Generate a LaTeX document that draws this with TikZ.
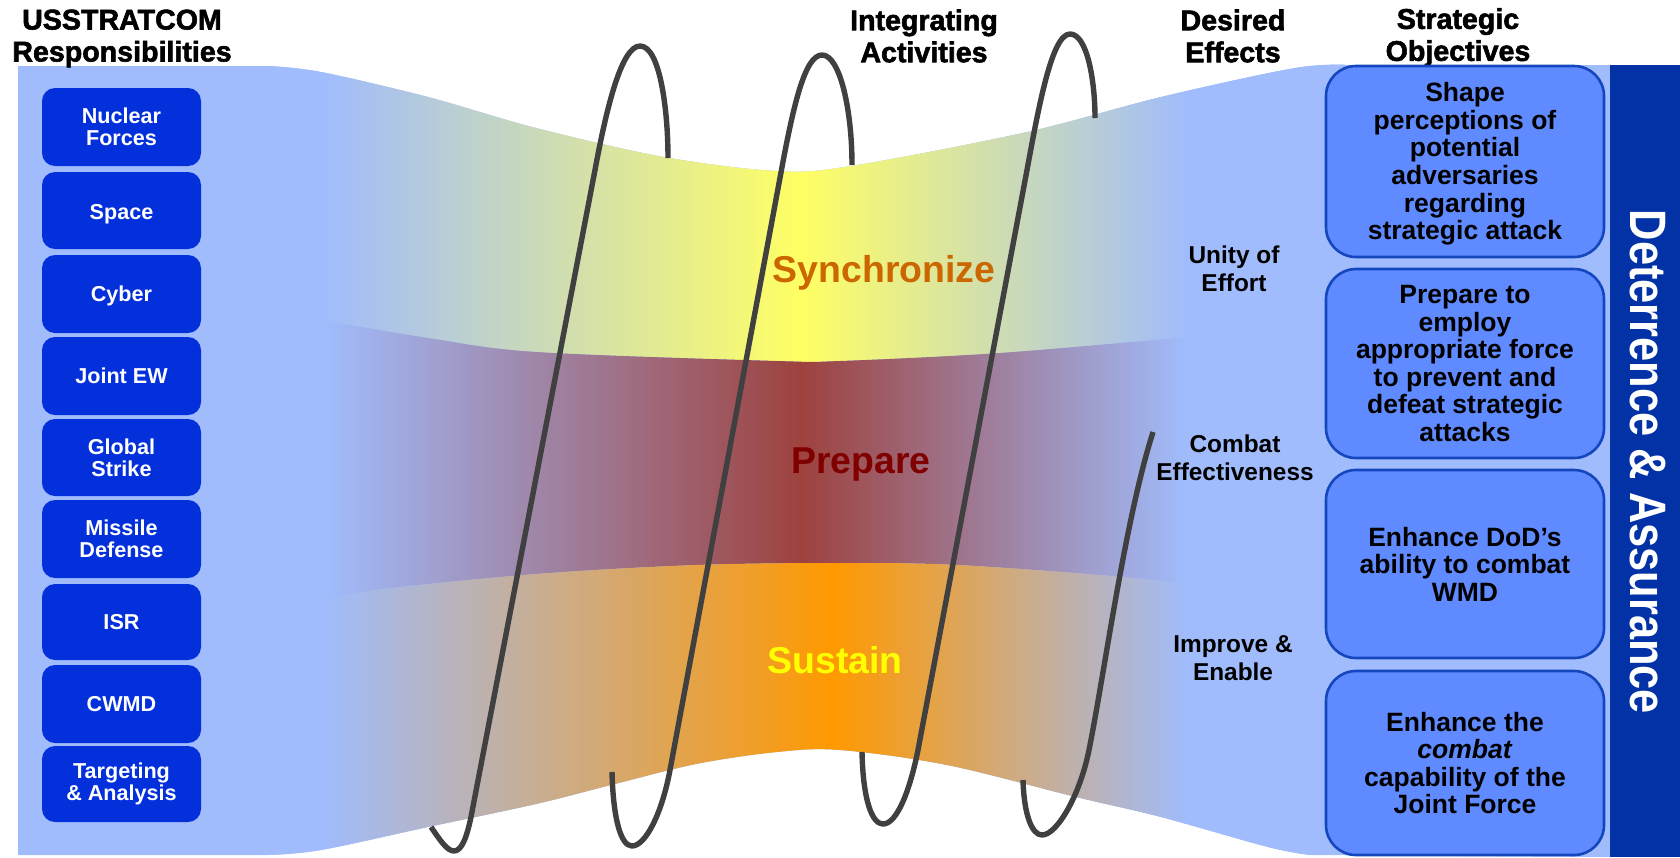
\documentclass[tikz,border=0pt]{standalone}
\usepackage{fontspec}
\setmainfont{Liberation Sans}
\newfontfamily\hdrfont[UprightFont=* Bold,FakeBold=2]{Liberation Sans}
\definecolor{ribbonblue}{RGB}{160,188,252}
\definecolor{syncmid}{RGB}{255,255,100}
\definecolor{prepmid}{RGB}{158,66,62}
\definecolor{sustmid}{RGB}{255,153,0}
\definecolor{respfill}{RGB}{3,48,218}
\definecolor{objfill}{RGB}{96,138,255}
\definecolor{objline}{RGB}{20,70,190}
\definecolor{bandfill}{RGB}{2,50,165}
\definecolor{coil}{RGB}{64,64,64}
\pgfdeclarehorizontalshading{syncshade}{100bp}{color(0bp)=(ribbonblue); color(34.65bp)=(ribbonblue); color(49.6bp)=(syncmid); color(61.7bp)=(ribbonblue); color(100bp)=(ribbonblue)}
\pgfdeclarehorizontalshading{prepshade}{100bp}{color(0bp)=(ribbonblue); color(34.65bp)=(ribbonblue); color(49.6bp)=(prepmid); color(61.7bp)=(ribbonblue); color(100bp)=(ribbonblue)}
\pgfdeclarehorizontalshading{sustshade}{100bp}{color(0bp)=(ribbonblue); color(34.65bp)=(ribbonblue); color(50.6bp)=(sustmid); color(61.7bp)=(ribbonblue); color(100bp)=(ribbonblue)}
\tikzset{
  respbox/.style={draw=none,fill=respfill,rounded corners=6.5pt,minimum width=79.5pt,inner sep=0pt,align=center,text=white,font=\fontsize{10.8}{11}\selectfont\bfseries},
  objbox/.style={draw=objline,line width=1.3pt,fill=objfill,rounded corners=15pt,minimum width=139pt,inner sep=0pt,align=center,text=black,font=\fontsize{13.25}{13.8}\selectfont\bfseries},
  header/.style={align=center,inner sep=0pt,text=black,font=\fontsize{14.3}{16}\hdrfont},
  effect/.style={align=center,inner sep=0pt,text=black,font=\fontsize{12.2}{14.2}\selectfont\bfseries},
  phase/.style={inner sep=0pt,font=\fontsize{18.7}{20}\selectfont\bfseries},
  coilline/.style={draw=coil,line width=2.7pt,line cap=butt,line join=round},
}
\def\TopEdge{(268,66) (321,72) (428,97) (536,128) (664,157) (777,171) (851,166) (1027,132) (1161,97) (1295,68) (1350,65)}
\def\BotEdgeRev{(1310,855) (1268,847) (1161,817) (1076,797) (947,765) (840,750) (777,752) (696,764) (611,785) (536,804) (428,827) (321,850) (268,855)}
\def\SyncPrep{(321,320) (428,338) (536,352) (777,361) (840,361) (1000,353) (1188,337)}
\def\SyncPrepRev{(1188,337) (1000,353) (840,361) (777,361) (536,352) (428,338) (321,320)}
\def\PrepSust{(321,602) (375,590) (536,574) (696,565) (840,563) (958,565) (1124,577) (1188,585)}
\def\PrepSustRev{(1188,585) (1124,577) (958,565) (840,563) (696,565) (536,574) (375,590) (321,602)}
\begin{document}
\begin{tikzpicture}[x=0.5pt,y=-0.5pt]
\useasboundingbox (0,0) rectangle (1680,857);
% ribbon base
\fill[ribbonblue] (18,66) -- plot[smooth,tension=.55] coordinates {\TopEdge} -- (1610,65) -- (1610,857) -- (1310,855) -- plot[smooth,tension=.55] coordinates {\BotEdgeRev} -- (18,855) -- cycle;
% bands
\begin{scope}
\clip plot[smooth,tension=.55] coordinates {\TopEdge} -- (1350,337) -- plot[smooth,tension=.55] coordinates {\SyncPrepRev} -- (268,320) -- cycle;
\shade[shading=syncshade] (18,0) rectangle (1610,857);
\end{scope}
\begin{scope}
\clip plot[smooth,tension=.55] coordinates {\SyncPrep} -- plot[smooth,tension=.55] coordinates {\PrepSustRev} -- cycle;
\shade[shading=prepshade] (18,0) rectangle (1610,857);
\end{scope}
\begin{scope}
\clip plot[smooth,tension=.55] coordinates {\PrepSust} -- plot[smooth,tension=.55] coordinates {\BotEdgeRev} -- cycle;
\shade[shading=sustshade] (18,0) rectangle (1610,857);
\end{scope}
% coil
\draw[coilline] (431,827) .. controls (440,840) and (447,851) .. (454,851) .. controls (462,851) and (467,836) .. (471,817) -- (595,170) .. controls (607,105) and (622,46) .. (640,46) .. controls (660,46) and (668,110) .. (668,158);
\draw[coilline] (612,772) .. controls (613,815) and (620,846) .. (632,846) .. controls (645,846) and (661.6,815) .. (670,770) -- (782,167) .. controls (793.6,105) and (805,55) .. (822,55) .. controls (840,55) and (852,110) .. (852,165);
\draw[coilline] (862,752) .. controls (863,800) and (872,824) .. (883,824) .. controls (897,824) and (910,790) .. (918,750) -- (1027,170) .. controls (1039,105) and (1052,34) .. (1070,34) .. controls (1087,34) and (1095,80) .. (1095,118);
\draw[coilline] (1023,780) .. controls (1024,815) and (1032,835) .. (1042,835) .. controls (1057,835) and (1080,795) .. (1089,750) .. controls (1105,670) and (1125,520) .. (1153,432);
% phase labels
\node[phase,text={rgb,255:red,204;green,102;blue,0}] (sync) at (884,273) {Synchronize};
\node[phase,text={rgb,255:red,128;green,0;blue,0}] (prep) at (861,465) {Prepare};
\node[phase,text={rgb,255:red,255;green,255;blue,0}] (sust) at (835,660) {Sustain};
% headers
\node[header] (h1) at (122,38.5) {USSTRATCOM\\Responsibilities};
\node[header] (h2) at (924,36) {Integrating\\Activities};
\node[header] (h3) at (1233,36) {Desired\\Effects};
\node[header] (h4) at (1458,37.5) {Strategic\\Objectives};
% responsibilities
\node[respbox,minimum height=39pt] (r1) at (121.5,127) {Nuclear\\Forces};
\node[respbox,minimum height=38.5pt] (r2) at (121.5,210.5) {\rule{0pt}{10.8pt}Space};
\node[respbox,minimum height=39pt] (r3) at (121.5,294) {\rule{0pt}{9.8pt}Cyber};
\node[respbox,minimum height=39pt] (r4) at (121.5,376) {Joint EW};
\node[respbox,minimum height=38.5pt] (r5) at (121.5,457.5) {Global\\Strike};
\node[respbox,minimum height=39pt] (r6) at (121.5,539) {Missile\\Defense};
\node[respbox,minimum height=38pt] (r7) at (121.5,622) {ISR};
\node[respbox,minimum height=39pt] (r8) at (121.5,704) {CWMD};
\node[respbox,minimum height=38pt] (r9) at (121.5,784) {Targeting\\\& Analysis};
% effects
\node[effect] (e1) at (1234,268.5) {Unity of\\Effort};
\node[effect] (e2) at (1235,458) {Combat\\Effectiveness};
\node[effect] (e3) at (1233,658) {Improve \&\\Enable};
% dark band
\fill[bandfill] (1610,65) rectangle (1680,857);
\node[rotate=-90,anchor=base,inner sep=0pt,text=white,font=\fontsize{21.7}{24}\selectfont\bfseries] (da) at (1630,462) {\scalebox{1}[1.18]{Deterrence \& Assurance}};
% objectives
\node[objbox,minimum height=95.5pt] (o1) at (1465,161.5) {\rule{0pt}{12pt}Shape\\perceptions of\\potential\\adversaries\\regarding\\strategic attack};
\node[objbox,minimum height=94.5pt] (o2) at (1465,363.5) {Prepare to\\employ\\appropriate force\\to prevent and\\defeat strategic\\attacks};
\node[objbox,minimum height=94pt] (o3) at (1465,564) {Enhance DoD’s\\ability to combat\\WMD};
\node[objbox,minimum height=92pt] (o4) at (1465,763) {Enhance the\\\textit{combat}\\capability of the\\Joint Force};
\end{tikzpicture}
\end{document}
